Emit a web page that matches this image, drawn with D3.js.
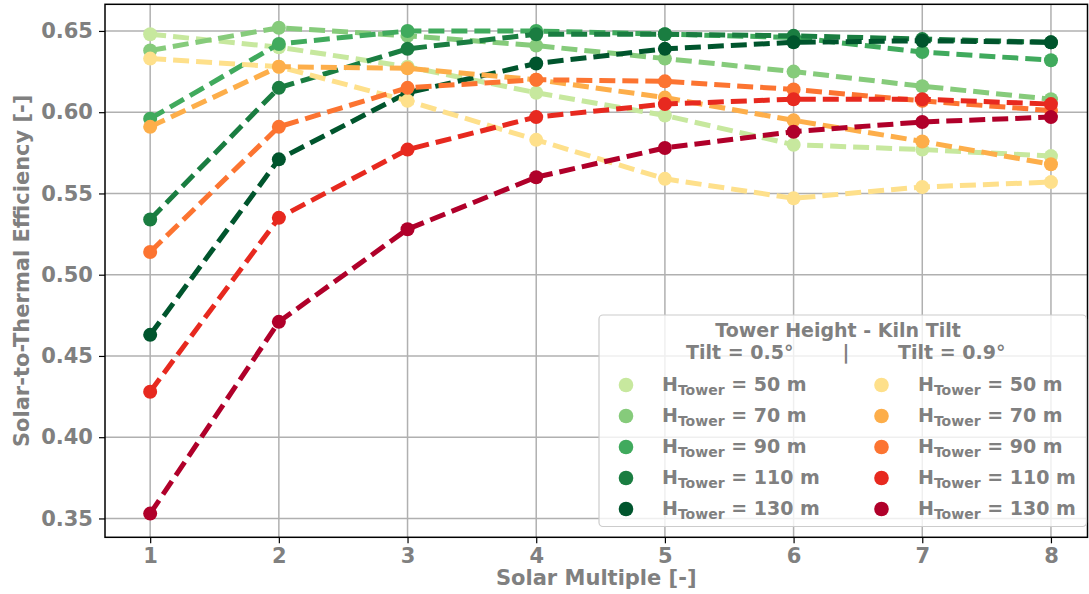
<!DOCTYPE html>
<html>
<head>
<meta charset="utf-8">
<script src="https://cdn.jsdelivr.net/npm/d3@7"></script>
<style>
  body { margin: 0; background: #fff; }
  text { font-family: "DejaVu Sans", sans-serif; font-weight: bold; fill: #808080; }
</style>
</head>
<body>
<svg id="chart" width="1089" height="594"></svg>
<script>
var solarMultiple = [1, 2, 3, 4, 5, 6, 7, 8];
var towerHeights = [50, 70, 90, 110, 130];
var yTicks = [0.35, 0.40, 0.45, 0.50, 0.55, 0.60, 0.65];

// tilt = 0.5 deg
var tilt05_H50  = [0.648, 0.640, 0.628, 0.612, 0.598, 0.580, 0.577, 0.573];
var tilt05_H70  = [0.638, 0.652, 0.647, 0.641, 0.633, 0.625, 0.616, 0.608];
var tilt05_H90  = [0.596, 0.642, 0.650, 0.650, 0.648, 0.646, 0.637, 0.632];
var tilt05_H110 = [0.534, 0.615, 0.639, 0.648, 0.648, 0.647, 0.645, 0.643];
var tilt05_H130 = [0.463, 0.571, 0.612, 0.630, 0.639, 0.643, 0.644, 0.643];

// tilt = 0.9 deg
var tilt09_H50  = [0.633, 0.628, 0.607, 0.583, 0.559, 0.547, 0.554, 0.557];
var tilt09_H70  = [0.591, 0.628, 0.627, 0.620, 0.609, 0.595, 0.582, 0.568];
var tilt09_H90  = [0.514, 0.591, 0.615, 0.620, 0.619, 0.614, 0.607, 0.601];
var tilt09_H110 = [0.428, 0.535, 0.577, 0.597, 0.605, 0.608, 0.608, 0.605];
var tilt09_H130 = [0.353, 0.471, 0.528, 0.560, 0.578, 0.588, 0.594, 0.597];

var greens  = ["#c7e89e", "#86cb7b", "#40aa5d", "#1a7d41", "#00552d"];
var oranges = ["#fee08b", "#fdae4a", "#fc7431", "#e7291f", "#b0002a"];

var tilt05 = [tilt05_H50, tilt05_H70, tilt05_H90, tilt05_H110, tilt05_H130];
var tilt09 = [tilt09_H50, tilt09_H70, tilt09_H90, tilt09_H110, tilt09_H130];

var series = [];
tilt05.forEach(function(v, i){ series.push({values: v, color: greens[i]}); });
tilt09.forEach(function(v, i){ series.push({values: v, color: oranges[i]}); });

var svg = d3.select("#chart");
var plotLeft = 105, plotRight = 1087.5, plotTop = 4.3, plotBottom = 537.3;

var xScale = d3.scaleLinear().domain([0.649, 8.284]).range([plotLeft, plotRight]);
var yScale = d3.scaleLinear().domain([0.3384, 0.6664]).range([plotBottom, plotTop]);

// grid
svg.append("g")
  .selectAll("line")
  .data(solarMultiple)
  .enter().append("line")
    .attr("x1", function(d){ return xScale(d); })
    .attr("x2", function(d){ return xScale(d); })
    .attr("y1", plotTop).attr("y2", plotBottom)
    .attr("stroke", "#b0b0b0").attr("stroke-width", 1.5);

svg.append("g")
  .selectAll("line")
  .data(yTicks)
  .enter().append("line")
    .attr("y1", function(d){ return yScale(d); })
    .attr("y2", function(d){ return yScale(d); })
    .attr("x1", plotLeft).attr("x2", plotRight)
    .attr("stroke", "#b0b0b0").attr("stroke-width", 1.5);

// axes
var xAxis = d3.axisBottom(xScale).tickValues(solarMultiple).tickFormat(d3.format("d")).tickSize(6).tickPadding(5);
var yAxis = d3.axisLeft(yScale).tickValues(yTicks).tickFormat(d3.format(".2f")).tickSize(6).tickPadding(6);

var gx = svg.append("g").attr("transform", "translate(0," + plotBottom + ")").call(xAxis);
var gy = svg.append("g").attr("transform", "translate(" + plotLeft + ",0)").call(yAxis);
[gx, gy].forEach(function(g){
  g.attr("font-size", 21).attr("font-family", "DejaVu Sans");
  g.select(".domain").remove();
  g.selectAll(".tick line").attr("stroke", "#000").attr("stroke-width", 1.2);
  g.selectAll(".tick text").attr("fill", "#808080");
});

// lines + markers
var line = d3.line()
  .x(function(d, i){ return xScale(solarMultiple[i]); })
  .y(function(d){ return yScale(d); });

series.forEach(function(s){
  svg.append("path")
    .datum(s.values)
    .attr("d", line)
    .attr("fill", "none")
    .attr("stroke", s.color)
    .attr("stroke-width", 5)
    .attr("stroke-dasharray", "16,7");
  svg.append("g")
    .selectAll("circle")
    .data(s.values)
    .enter().append("circle")
      .attr("cx", function(d, i){ return xScale(solarMultiple[i]); })
      .attr("cy", function(d){ return yScale(d); })
      .attr("r", 7)
      .attr("fill", s.color);
});

// frame
svg.append("rect")
  .attr("x", plotLeft).attr("y", plotTop)
  .attr("width", plotRight - plotLeft).attr("height", plotBottom - plotTop)
  .attr("fill", "none").attr("stroke", "#000").attr("stroke-width", 1.5);

// axis labels
svg.append("text")
  .attr("x", (plotLeft + plotRight) / 2)
  .attr("y", 585)
  .attr("text-anchor", "middle")
  .attr("font-size", 21)
  .text("Solar Multiple [-]");

svg.append("text")
  .attr("transform", "translate(29," + ((plotTop + plotBottom) / 2) + ")rotate(-90)")
  .attr("text-anchor", "middle")
  .attr("font-size", 21)
  .text("Solar-to-Thermal Efficiency [-]");

// legend
var lg = svg.append("g");
lg.append("rect")
  .attr("x", 599).attr("y", 315)
  .attr("width", 487.5).attr("height", 211.5)
  .attr("rx", 4)
  .attr("fill", "rgba(255,255,255,0.8)")
  .attr("stroke", "#cccccc").attr("stroke-width", 1.2);

lg.append("text").attr("x", 838).attr("y", 337).attr("text-anchor", "middle")
  .attr("font-size", 19).text("Tower Height - Kiln Tilt");
lg.append("text").attr("x", 686).attr("y", 359).attr("font-size", 19).text("Tilt = 0.5°");
lg.append("text").attr("x", 846).attr("y", 359).attr("text-anchor", "middle").attr("font-size", 19).text("|");
lg.append("text").attr("x", 898).attr("y", 359).attr("font-size", 19).text("Tilt = 0.9°");

var rowY = d3.scaleLinear().domain([0, 4]).range([385, 509]);
var cols = [{mx: 626, tx: 662, colors: greens}, {mx: 881.5, tx: 918, colors: oranges}];

cols.forEach(function(c){
  towerHeights.forEach(function(h, i){
    var y = rowY(i);
    lg.append("circle").attr("cx", c.mx).attr("cy", y).attr("r", 7.3).attr("fill", c.colors[i]);
    var t = lg.append("text").attr("x", c.tx).attr("y", y + 6).attr("font-size", 19);
    t.append("tspan").text("H");
    t.append("tspan").attr("font-size", 14).attr("dy", 4).text("Tower");
    t.append("tspan").attr("dy", -4).text(" = " + h + " m");
  });
});
</script>
</body>
</html>
